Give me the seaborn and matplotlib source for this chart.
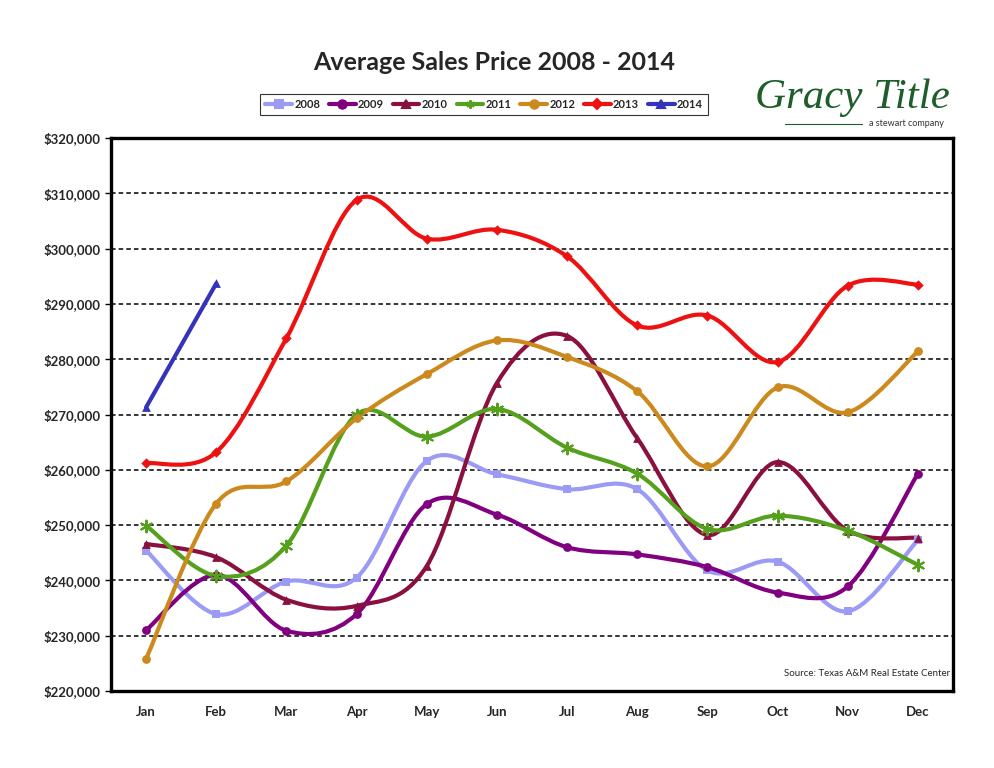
import numpy as np
import pandas as pd
import matplotlib
matplotlib.use("Agg")
import matplotlib.pyplot as plt
import seaborn as sns
from matplotlib.path import Path
from matplotlib.patches import PathPatch
from matplotlib.lines import Line2D

months = ["Jan", "Feb", "Mar", "Apr", "May", "Jun", "Jul", "Aug", "Sep", "Oct", "Nov", "Dec"]
years = ["2008", "2009", "2010", "2011", "2012", "2013", "2014"]

price_2008 = [245400, 233900, 239800, 240500, 261600, 259200, 256500, 256500, 241800, 243400, 234400, 247300]
price_2009 = [231000, 241000, 230900, 233900, 253800, 251900, 246000, 244700, 242400, 237800, 238900, 259300]
price_2010 = [246600, 244200, 236500, 235400, 242600, 275700, 284200, 265700, 248200, 261400, 249000, 247700]
price_2011 = [249900, 240800, 246300, 270000, 266000, 271000, 264000, 259300, 249300, 251700, 249000, 242800]
price_2012 = [225800, 253900, 257900, 269300, 277300, 283400, 280400, 274200, 260600, 274900, 270400, 281400]
price_2013 = [261200, 263200, 283800, 308800, 301800, 303400, 298600, 286100, 287900, 279500, 293300, 293500]
price_2014 = [271300, 293700]

series = dict(zip(years, [price_2008, price_2009, price_2010, price_2011,
                          price_2012, price_2013, price_2014]))

colors = {"2008": "#9B9BF5", "2009": "#800080", "2010": "#8A1040", "2011": "#55A01C",
          "2012": "#CC8A1E", "2013": "#EE1111", "2014": "#3333BB"}
markers = {"2008": "s", "2009": "o", "2010": "^", "2011": (6, 2, 0),
           "2012": "o", "2013": "D", "2014": "^"}
msizes = {"2008": 40, "2009": 40, "2010": 40, "2011": 70,
          "2012": 40, "2013": 28, "2014": 40}

rows = []
for yr, vals in series.items():
    for i, v in enumerate(vals):
        rows.append({"year": yr, "month": i, "price": v})
df = pd.DataFrame(rows)


def smooth_path(xs, ys, k=1 / 6):
    # cubic bezier through the points (Excel style smoothed line)
    pts = np.column_stack([xs, ys]).astype(float)
    n = len(pts)
    verts = [pts[0]]
    codes = [Path.MOVETO]
    for i in range(n - 1):
        p0 = pts[i - 1] if i > 0 else pts[i]
        p1 = pts[i]
        p2 = pts[i + 1]
        p3 = pts[i + 2] if i + 2 < n else pts[i + 1]
        c1 = p1 + (p2 - p0) * k
        c2 = p2 - (p3 - p1) * k
        verts += [c1, c2, p2]
        codes += [Path.CURVE4] * 3
    return Path(verts, codes)


sns.set_style("white")
plt.rcParams["font.family"] = ["Lato", "DejaVu Sans"]

fig = plt.figure(figsize=(9.94, 7.68), dpi=100)
ax = fig.add_axes([111 / 994, 77 / 768, 842 / 994, 553 / 768])

for yr in years:
    sub = df[df["year"] == yr]
    if len(sub) > 2:
        path = smooth_path(sub["month"].values, sub["price"].values)
        ax.add_patch(PathPatch(path, facecolor="none", edgecolor=colors[yr],
                               lw=3, capstyle="round", joinstyle="round", zorder=3))
    else:
        ax.plot(sub["month"], sub["price"], color=colors[yr], lw=3, zorder=3)
    sns.scatterplot(data=sub, x="month", y="price", color=colors[yr],
                    marker=markers[yr], s=msizes[yr], linewidth=1.5 if yr == "2011" else 0,
                    edgecolor=colors[yr], ax=ax, zorder=4, legend=False)

ax.set_xlim(-0.5, 11.5)
ax.set_ylim(220000, 320000)
ax.set_xlabel("")
ax.set_ylabel("")

ax.set_xticks(range(12))
ax.set_xticklabels(months, fontsize=9.5, fontweight="bold")
ax.set_xticks(np.arange(-0.5, 12, 1), minor=True)
ax.tick_params(axis="x", which="major", length=0, pad=11)
ax.tick_params(axis="x", which="minor", length=5, width=1, direction="out", color="black")

yt = np.arange(220000, 320001, 10000)
ax.set_yticks(yt)
ax.set_yticklabels([f"${v:,.0f}" for v in yt], fontsize=9.5, fontweight="bold")
ax.tick_params(axis="y", length=4, width=1, direction="out", color="black", left=True)

ax.yaxis.grid(True, color="black", linestyle=(0, (3, 2)), lw=1.1)
ax.xaxis.grid(False)
ax.set_axisbelow(True)
for sp in ax.spines.values():
    sp.set_visible(True)
    sp.set_color("black")
    sp.set_linewidth(2.4)

ax.text(0.997, 0.023, "Source: Texas A&M Real Estate Center", transform=ax.transAxes,
        ha="right", va="bottom", fontsize=7, zorder=5)

handles = [Line2D([], [], color=colors[yr], lw=3, marker=markers[yr],
                  markersize=6 if yr != "2013" else 5, markeredgewidth=1.5,
                  markeredgecolor=colors[yr]) for yr in years]
leg = fig.legend(handles, years, loc="center", bbox_to_anchor=(484 / 994, 1 - 104 / 768),
                 ncol=7, frameon=True, fancybox=False, edgecolor="black",
                 prop={"weight": "bold", "size": 8}, handlelength=2.4,
                 handletextpad=0.2, columnspacing=0.8, borderpad=0.45)
leg.get_frame().set_linewidth(0.8)

fig.text(494 / 994, 1 - 62 / 768, "Average Sales Price 2008 - 2014", ha="center", va="center",
         fontsize=18, fontweight="bold")

# logo
fig.text(852 / 994, 1 - 108 / 768, "Gracy Title", ha="center", va="baseline",
         fontsize=31, style="italic", family="Liberation Serif", color="#1E5E2A")
fig.text(906 / 994, 1 - 124 / 768, "a stewart company", ha="center", va="center",
         fontsize=6.5, color="#333333")
fig.add_artist(Line2D([785 / 994, 862 / 994], [1 - 124 / 768, 1 - 124 / 768],
                      color="#1E5E2A", lw=0.8, transform=fig.transFigure))

fig.savefig("out.png", dpi=100)
